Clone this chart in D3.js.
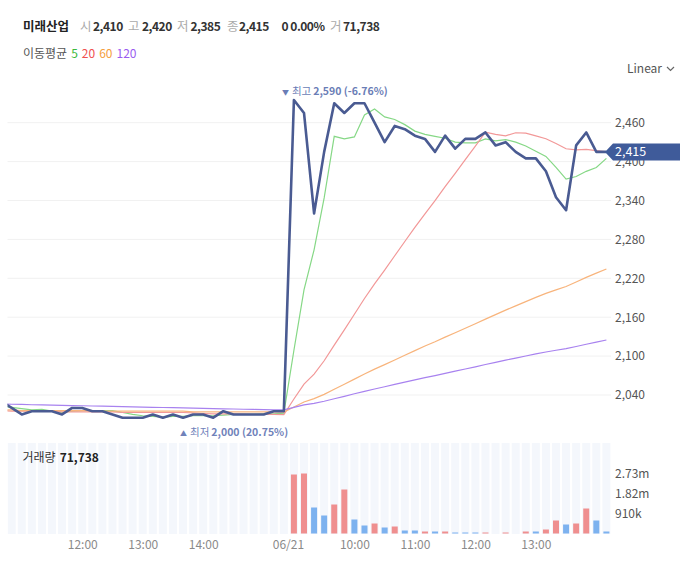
<!DOCTYPE html>
<html><head><meta charset="utf-8">
<script src="https://cdn.jsdelivr.net/npm/d3@7"></script>
<style>
body{margin:0;background:#fff;}
svg text{font-family:"Noto Sans CJK KR","Noto Sans",sans-serif;}
</style></head>
<body><svg id="c" width="680" height="582"></svg>
<script>
// ---- categories (10-minute slots) ----
const day1Times = ["10:40","10:50","11:00","11:10","11:20","11:30","11:40","11:50","12:00","12:10","12:20","12:30","12:40","12:50","13:00","13:10","13:20","13:30","13:40","13:50","14:00","14:10","14:20","14:30","14:40","14:50","15:00","15:10","15:20"];
const day2Times = ["09:00","09:10","09:20","09:30","09:40","09:50","10:00","10:10","10:20","10:30","10:40","10:50","11:00","11:10","11:20","11:30","11:40","11:50","12:00","12:10","12:20","12:30","12:40","12:50","13:00","13:10","13:20","13:30","13:40","13:50","14:00","14:10"];
const keys = day1Times.map(t => "06/20 " + t).concat(day2Times.map(t => "06/21 " + t));

// ---- series values ----
const closes = [2030,2020,2010,2015,2015,2015,2010,2020,2020,2015,2015,2010,2005,2005,2005,2010,2005,2010,2005,2010,2010,2005,2015,2010,2010,2010,2010,2015,2015,
  2495,2475,2320,2415,2490,2475,2490,2490,2460,2430,2455,2450,2440,2435,2415,2440,2420,2435,2435,2445,2425,2430,2415,2405,2405,2385,2345,2325,2425,2445,2415,2415];
const ma5 = [2022,2021,2019,2017,2018,2015,2013,2015,2016,2016,2016,2016,2013,2010,2008,2007,2006,2007,2007,2008,2008,2008,2009,2010,2010,2010,2011,2011,2012,
  2109,2202,2264,2344,2439,2435,2438,2472,2481,2469,2465,2457,2447,2442,2439,2436,2430,2429,2429,2435,2432,2434,2430,2424,2416,2408,2391,2373,2377,2385,2391,2405];
const ma20 = [2016,2015,2015,2015,2015,2015,2014,2014,2014,2014,2014,2014,2013,2013,2013,2013,2013,2013,2013,2012.5,2011.5,2010.8,2011,2010.8,2010.5,2010.3,2010.3,2010,2009.8,
  2033.8,2056.8,2072.3,2092.8,2117,2140.5,2164.5,2188.8,2211.3,2232.5,2254.8,2276.8,2298.5,2319.5,2339.8,2361.3,2381.8,2403,2424,2445.5,2442,2439.8,2444.5,2444,2439.8,2435.3,2428,2419.8,2418,2418.8,2416.8,2415];
const ma60 = [2017,2017,2016,2016,2016,2016,2016,2016,2016,2016,2015,2015,2015,2015,2015,2015,2015,2015,2015,2014,2014,2014,2014,2014,2014,2014,2014,2014,2013.6,
  2021.6,2029.3,2034.4,2041,2048.9,2056.6,2064.5,2072.4,2079.9,2086.8,2094.1,2101.4,2108.5,2115.5,2122.1,2129.2,2136,2143,2150,2157.1,2164,2170.9,2177.5,2184,2190.5,2196.7,2202.2,2207.4,2214.2,2221.4,2228,2234.4];
const ma120 = [2026,2025.7,2025.4,2025,2024.7,2024.4,2024,2023.7,2023.4,2023,2022.7,2022.4,2022,2021.7,2021.4,2021,2020.7,2020.4,2020,2019.7,2019.4,2019,2018.7,2018.4,2018,2017.7,2017.4,2017.2,2017,
  2020.9,2024.7,2027.1,2030.4,2034.2,2038,2041.9,2045.7,2049.3,2052.7,2056.3,2059.8,2063.3,2066.7,2069.9,2073.4,2076.7,2080.1,2083.5,2087,2090.3,2093.7,2097,2100.1,2103.3,2106.3,2109,2111.5,2114.8,2118.3,2121.6,2124.8];
const volumes = [6000,5000,4000,3000,5000,3000,4000,2000,3000,2000,3000,4000,2000,3000,2000,3000,2000,2000,3000,2000,2000,3000,2000,2000,3000,2000,2000,3000,4000,
  2660000,2740000,1170000,810000,1330000,2010000,650000,355000,460000,260000,330000,145000,145000,110000,70000,110000,50000,25000,25000,50000,15000,50000,15000,110000,110000,170000,600000,420000,460000,1150000,570000,71738];
const volDir = ["d","d","u","d","d","u","d","u","u","d","u","d","d","u","d","u","d","u","d","u","d","u","d","d","u","d","u","u","d",
  "u","u","d","d","u","u","d","d","u","d","u","d","d","u","d","u","d","d","d","u","u","u","d","u","d","u","u","d","u","u","d","d"];

// ---- ticks / labels ----
const yTicks = [2040,2100,2160,2220,2280,2340,2400,2460];
const volTicks = [910000,1820000,2730000];
const volTickLabels = ["910k","1.82m","2.73m"];
const xTickKeys = ["06/20 12:00","06/20 13:00","06/20 14:00","06/21 09:00","06/21 10:00","06/21 11:00","06/21 12:00","06/21 13:00"];
const xTickLabels = ["12:00","13:00","14:00","06/21","10:00","11:00","12:00","13:00"];
const header = [["미래산업",""],["시","2,410"],["고","2,420"],["저","2,385"],["종","2,415"],["","0 0.00%"],["거","71,738"]];
const maNames = ["5","20","60","120"];
const lastPrice = 2415;
const highLabel = ["최고","2,590 (-6.76%)"];
const lowLabel = ["최저","2,000 (20.75%)"];
const volTitle = ["거래량","71,738"];

// ---- layout ----
const svg = d3.select("#c");
const L = 7.5, R = 611;
const x = d3.scalePoint().domain(keys).range([1.6, 606.4]);
const y = d3.scaleLinear().domain([2040, 2460]).range([395, 122.7]);
const yv = d3.scaleLinear().domain([0, 2730000]).range([533.5, 473.3]);
const maColors = ["#86d886","#f29898","#f8b47c","#a882ef"];
const maTextColors = ["#3cb93c","#f0504f","#f5a040","#9a5cf0"];

svg.append("defs").append("clipPath").attr("id","clip")
  .append("rect").attr("x",L).attr("y",60).attr("width",R-L).attr("height",380);
svg.append("defs").append("clipPath").attr("id","clipv")
  .append("rect").attr("x",L).attr("y",440).attr("width",R-L).attr("height",100);

// header
const hx = [23,80,128,177,227,281.5,330];
const hv = [23,93,142,190.5,239,281.5,343];
header.forEach((h,i)=>{
  if(i===0){
    svg.append("text").attr("x",hx[i]).attr("y",31).attr("font-size",12.5).attr("font-weight","bold").attr("fill","#222").text(h[0]);
  } else {
    if(h[0]) svg.append("text").attr("x",hx[i]).attr("y",31).attr("font-size",12.5).attr("fill","#aaa").text(h[0]);
    svg.append("text").attr("x",hv[i]).attr("y",31).attr("font-size",12).attr("letter-spacing",-0.5)
      .attr("font-weight","bold").attr("fill","#333").text(h[1]);
  }
});
// legend
const lg = svg.append("text").attr("x",23).attr("y",57.5).attr("font-size",12).attr("fill","#555");
lg.append("tspan").text("이동평균");
maNames.forEach((n,i)=> lg.append("tspan").attr("dx",4).attr("fill",maTextColors[i]).text(n));

// Linear selector
svg.append("text").attr("x",627).attr("y",73).attr("font-size",12).attr("fill","#555").text("Linear");
svg.append("path").attr("d","M667,67 L670.5,70.5 L674,67").attr("fill","none").attr("stroke","#666").attr("stroke-width",1.2);

// gridlines
svg.append("g").selectAll("line").data(yTicks).join("line")
  .attr("x1",L).attr("x2",R).attr("y1",d=>y(d)).attr("y2",d=>y(d))
  .attr("stroke","#f1f1f1").attr("stroke-width",1);

// MA lines
const gLines = svg.append("g").attr("clip-path","url(#clip)");
[ma5,ma20,ma60,ma120].forEach((arr,i)=>{
  const line = d3.line().x((d,j)=>x(keys[j])).y(d=>y(d));
  gLines.append("path").datum(arr).attr("d",line).attr("fill","none")
    .attr("stroke",maColors[i]).attr("stroke-width",1.2);
});
// price line
gLines.append("path").datum(closes)
  .attr("d", d3.line().x((d,j)=>x(keys[j])).y(d=>y(d)))
  .attr("fill","none").attr("stroke","#4a5b92").attr("stroke-width",2.6).attr("stroke-linejoin","round");

// high / low annotations
const iMax = closes.indexOf(d3.max(closes));
const ht = svg.append("text").attr("x",x(keys[iMax])-12).attr("y",94.5).attr("font-size",10.5).attr("fill","#6a7db6");
ht.append("tspan").attr("font-size",7).text("▼");
ht.append("tspan").attr("dx",3).text(highLabel[0]);
ht.append("tspan").attr("dx",2).attr("font-weight","bold").text(highLabel[1]);
const lt = svg.append("text").attr("x",x("06/20 13:40")-3).attr("y",435.5).attr("font-size",10.5).attr("fill","#7082ba");
lt.append("tspan").attr("font-size",7).text("▲");
lt.append("tspan").attr("dx",3).text(lowLabel[0]);
lt.append("tspan").attr("dx",2).attr("font-weight","bold").text(lowLabel[1]);

// y axis
const ya = svg.append("g").attr("transform",`translate(${R},0)`)
  .call(d3.axisRight(y).tickValues(yTicks).tickFormat(d3.format(",")).tickSize(0).tickPadding(4));
ya.select(".domain").remove();
ya.selectAll("text").attr("font-size",12).attr("fill","#555").attr("font-family","'Noto Sans CJK KR','Noto Sans',sans-serif");

// current price tag
const ty = y(lastPrice);
svg.append("path").attr("d",`M605,${ty} L613,${ty-8.5} L680,${ty-8.5} L680,${ty+8.5} L613,${ty+8.5} Z`).attr("fill","#3f5b9a");
svg.append("text").attr("x",615).attr("y",ty).attr("dy","0.35em").attr("font-size",12.5).attr("fill","#fff").text(d3.format(",")(lastPrice));

// volume panel
const gv = svg.append("g").attr("clip-path","url(#clipv)");
gv.selectAll("rect.bg").data(keys).join("rect").attr("class","bg")
  .attr("x",d=>x(d)-4).attr("width",8).attr("y",443).attr("height",91).attr("fill","#f4f7fc");
gv.selectAll("rect.bar").data(volumes).join("rect").attr("class","bar")
  .attr("x",(d,i)=>x(keys[i])-3).attr("width",6)
  .attr("y",d=>yv(0)-Math.round(yv(0)-yv(d))).attr("height",d=>Math.round(yv(0)-yv(d)))
  .attr("fill",(d,i)=> volDir[i]==="u" ? "#ef8f8f" : "#7db2ef");

const vt = svg.append("text").attr("x",22.5).attr("y",461.5).attr("font-size",12).attr("fill","#333");
vt.append("tspan").text(volTitle[0]);
vt.append("tspan").attr("dx",4).attr("font-weight","bold").attr("fill","#222").text(volTitle[1]);

const va = svg.append("g").attr("transform",`translate(${R},0)`)
  .call(d3.axisRight(yv).tickValues(volTicks).tickFormat((d,i)=>volTickLabels[i]).tickSize(0).tickPadding(4));
va.select(".domain").remove();
va.selectAll("text").attr("font-size",12).attr("fill","#555").attr("font-family","'Noto Sans CJK KR','Noto Sans',sans-serif");

// x axis
const xa = svg.append("g").attr("transform","translate(0,537)")
  .call(d3.axisBottom(x).tickValues(xTickKeys).tickFormat((d,i)=>xTickLabels[i]).tickSize(0).tickPadding(3));
xa.select(".domain").remove();
xa.selectAll("text").attr("font-size",12).attr("fill","#8a8a8a").attr("font-family","'Noto Sans CJK KR','Noto Sans',sans-serif")
  .attr("dx",(d)=> d==="06/21 09:00" ? -6 : 0);
</script></body></html>
